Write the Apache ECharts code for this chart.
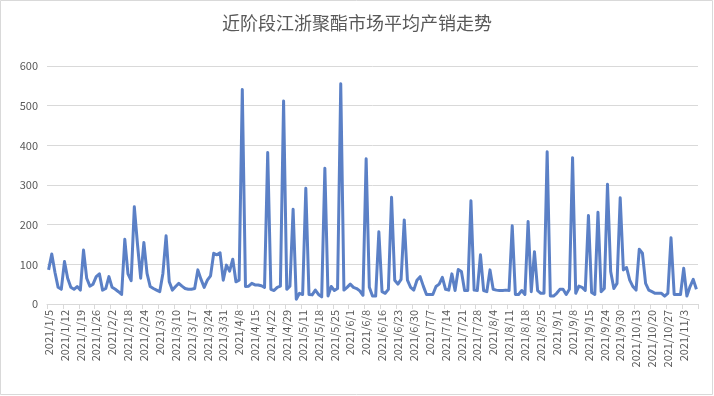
<!DOCTYPE html>
<html>
<head>
<meta charset="utf-8">
<script src="https://cdn.jsdelivr.net/npm/echarts@6/dist/echarts.min.js"></script>
<style>
html,body{margin:0;padding:0;background:#fff;}
#chart{width:714px;height:396px;}
</style>
</head>
<body>
<div id="chart"></div>
<script>
const titleText = '近阶段江浙聚酯市场平均产销走势';

const categories = [
"2021/1/5","2021/1/6","2021/1/7","2021/1/8","2021/1/11",
"2021/1/12","2021/1/13","2021/1/14","2021/1/15","2021/1/18",
"2021/1/19","2021/1/20","2021/1/21","2021/1/22","2021/1/25",
"2021/1/26","2021/1/27","2021/1/28","2021/1/29","2021/2/1",
"2021/2/2","2021/2/3","2021/2/4","2021/2/5","2021/2/8",
"2021/2/18","2021/2/19","2021/2/20","2021/2/22","2021/2/23",
"2021/2/24","2021/2/25","2021/2/26","2021/3/1","2021/3/2",
"2021/3/3","2021/3/4","2021/3/5","2021/3/8","2021/3/9",
"2021/3/10","2021/3/11","2021/3/12","2021/3/15","2021/3/16",
"2021/3/17","2021/3/18","2021/3/19","2021/3/22","2021/3/23",
"2021/3/24","2021/3/25","2021/3/26","2021/3/29","2021/3/30",
"2021/3/31","2021/4/1","2021/4/2","2021/4/6","2021/4/7",
"2021/4/8","2021/4/9","2021/4/12","2021/4/13","2021/4/14",
"2021/4/15","2021/4/16","2021/4/19","2021/4/20","2021/4/21",
"2021/4/22","2021/4/23","2021/4/26","2021/4/27","2021/4/28",
"2021/4/29","2021/4/30","2021/5/6","2021/5/7","2021/5/10",
"2021/5/11","2021/5/12","2021/5/13","2021/5/14","2021/5/17",
"2021/5/18","2021/5/19","2021/5/20","2021/5/21","2021/5/24",
"2021/5/25","2021/5/26","2021/5/27","2021/5/28","2021/5/31",
"2021/6/1","2021/6/2","2021/6/3","2021/6/4","2021/6/7",
"2021/6/8","2021/6/9","2021/6/10","2021/6/11","2021/6/15",
"2021/6/16","2021/6/17","2021/6/18","2021/6/21","2021/6/22",
"2021/6/23","2021/6/24","2021/6/25","2021/6/28","2021/6/29",
"2021/6/30","2021/7/1","2021/7/2","2021/7/5","2021/7/6",
"2021/7/7","2021/7/8","2021/7/9","2021/7/12","2021/7/13",
"2021/7/14","2021/7/15","2021/7/16","2021/7/19","2021/7/20",
"2021/7/21","2021/7/22","2021/7/23","2021/7/26","2021/7/27",
"2021/7/28","2021/7/29","2021/7/30","2021/8/2","2021/8/3",
"2021/8/4","2021/8/5","2021/8/6","2021/8/9","2021/8/10",
"2021/8/11","2021/8/12","2021/8/13","2021/8/16","2021/8/17",
"2021/8/18","2021/8/19","2021/8/20","2021/8/23","2021/8/24",
"2021/8/25","2021/8/26","2021/8/27","2021/8/30","2021/8/31",
"2021/9/1","2021/9/2","2021/9/3","2021/9/6","2021/9/7",
"2021/9/8","2021/9/9","2021/9/10","2021/9/13","2021/9/14",
"2021/9/15","2021/9/16","2021/9/17","2021/9/22","2021/9/23",
"2021/9/24","2021/9/26","2021/9/27","2021/9/28","2021/9/29",
"2021/9/30","2021/10/8","2021/10/9","2021/10/11","2021/10/12",
"2021/10/13","2021/10/14","2021/10/15","2021/10/18","2021/10/19",
"2021/10/20","2021/10/21","2021/10/22","2021/10/25","2021/10/26",
"2021/10/27","2021/10/28","2021/10/29","2021/11/1","2021/11/2",
"2021/11/3","2021/11/4","2021/11/5","2021/11/8","2021/11/9"
];

const salesRate = [
86,126,80,42,37, 107,65,42,37,44, 35,136,65,45,50, 69,76,35,39,69,
42,37,31,24,163, 76,59,245,150,65, 155,77,44,39,35, 31,77,172,56,35,
44,52,45,39,37, 37,39,86,62,42, 60,71,128,124,129, 60,98,83,113,56,
60,541,44,45,52, 48,48,46,42,382, 37,34,42,45,512, 37,45,239,12,27,
24,292,24,23,35, 24,18,342,20,44, 34,39,555,35,42, 50,42,39,33,22,
366,42,20,20,182, 31,27,37,269,60, 50,62,212,60,42, 35,60,69,45,24,
24,24,44,50,67, 37,35,76,34,87, 82,34,34,260,35, 34,124,34,31,86,
37,35,34,34,35, 34,197,24,24,34, 24,208,31,132,34, 27,27,384,20,20,
27,37,37,24,37, 369,27,45,42,34, 223,29,24,231,31, 39,302,82,39,52,
268,86,92,60,44, 35,138,128,52,35, 31,27,27,27,20, 27,167,24,24,24,
90,20,44,62,37
];

const yTicks = [0,100,200,300,400,500,600];

const chart = echarts.init(document.getElementById('chart'), null, {renderer:'canvas'});
chart.setOption({
  animation: false,
  backgroundColor: '#ffffff',
  title: {
    text: titleText,
    left: 'center',
    top: 9,
    textStyle: {
      fontFamily: 'Noto Sans CJK SC',
      fontSize: 18,
      fontWeight: 'normal',
      color: '#595959'
    }
  },
  graphic: [{
    type: 'rect',
    shape: {x: 0.5, y: 0.5, width: 712, height: 394},
    style: {fill: 'none', stroke: '#d9d9d9', lineWidth: 1},
    silent: true
  }],
  grid: {left: 47, right: 16, top: 66, bottom: 92, containLabel: false},
  xAxis: {
    type: 'category',
    data: categories,
    boundaryGap: true,
    axisLine: {lineStyle: {color: '#d9d9d9', width: 1}},
    axisTick: {show: true, interval: 4, length: 5, lineStyle: {color: '#d9d9d9'}},
    axisLabel: {
      interval: 4,
      rotate: 90,
      margin: 6,
      fontSize: 11,
      fontFamily: 'Noto Sans CJK SC',
      color: '#595959'
    },
    splitLine: {show: false}
  },
  yAxis: {
    type: 'value',
    min: yTicks[0],
    max: yTicks[yTicks.length - 1],
    interval: 100,
    axisLine: {show: false},
    axisTick: {show: false},
    axisLabel: {fontSize: 11, fontFamily: 'Noto Sans CJK SC', color: '#595959', margin: 9},
    splitLine: {lineStyle: {color: '#d9d9d9', width: 1}}
  },
  series: [{
    type: 'line',
    data: salesRate,
    symbol: 'none',
    lineStyle: {color: '#5b80c6', width: 3, join: 'round'},
    itemStyle: {color: '#5b80c6'}
  }]
});
</script>
</body>
</html>
